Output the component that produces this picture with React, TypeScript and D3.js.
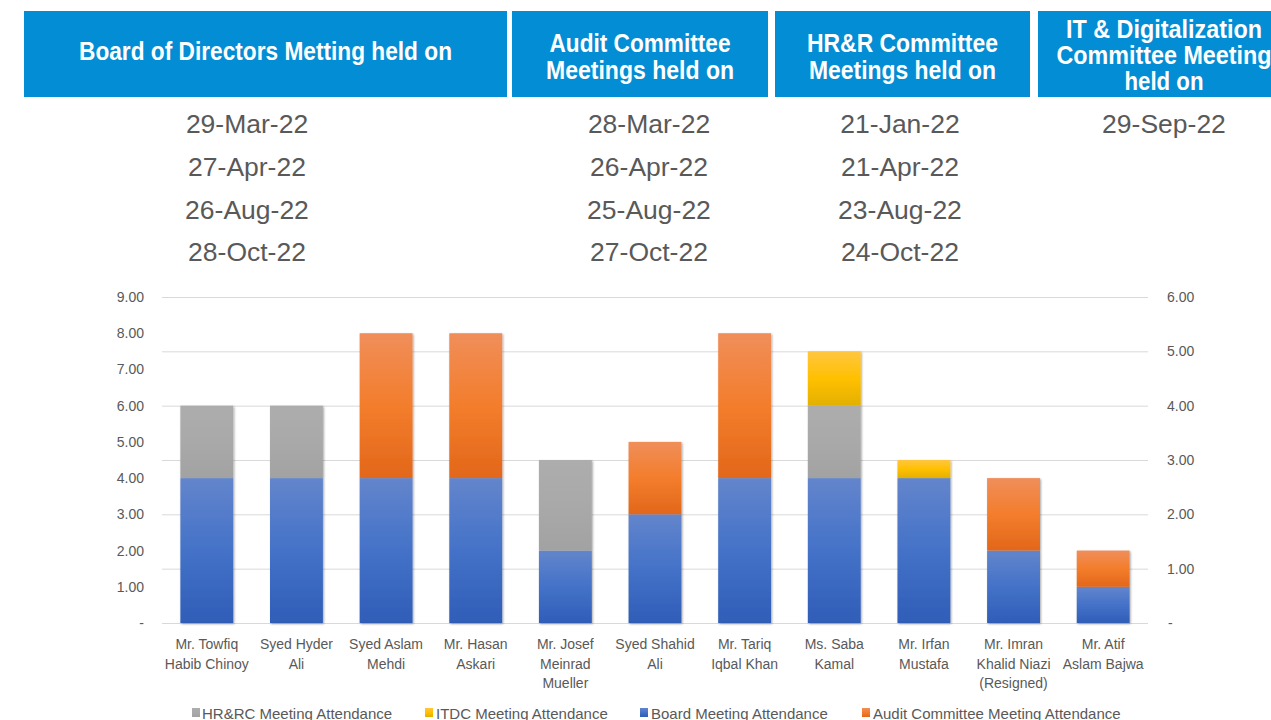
import React from "react";
import * as d3 from "d3";

const categories: string[][] = [
  ["Mr. Towfiq", "Habib Chinoy"],
  ["Syed Hyder", "Ali"],
  ["Syed Aslam", "Mehdi"],
  ["Mr. Hasan", "Askari"],
  ["Mr. Josef", "Meinrad", "Mueller"],
  ["Syed Shahid", "Ali"],
  ["Mr. Tariq", "Iqbal Khan"],
  ["Ms. Saba", "Kamal"],
  ["Mr. Irfan", "Mustafa"],
  ["Mr. Imran", "Khalid Niazi", "(Resigned)"],
  ["Mr. Atif", "Aslam Bajwa"],
];
const boardAttendance = [4, 4, 4, 4, 2, 3, 4, 4, 4, 2, 1];
const hrrcAttendance = [2, 2, 0, 0, 2.5, 0, 0, 2, 0, 0, 0];
const auditAttendance = [0, 0, 4, 4, 0, 2, 4, 0, 0, 2, 1];
const itdcAttendance = [0, 0, 0, 0, 0, 0, 0, 1.5, 0.5, 0, 0];

const leftTicks = [0, 1, 2, 3, 4, 5, 6, 7, 8, 9];
const rightTicks = [0, 1, 2, 3, 4, 5, 6];

const headerTitles: string[][] = [
  ["Board of Directors Metting held on"],
  ["Audit Committee", "Meetings held on"],
  ["HR&R Committee", "Meetings held on"],
  ["IT & Digitalization", "Committee Meeting", "held on"],
];
const boardDates = ["29-Mar-22", "27-Apr-22", "26-Aug-22", "28-Oct-22"];
const auditDates = ["28-Mar-22", "26-Apr-22", "25-Aug-22", "27-Oct-22"];
const hrDates = ["21-Jan-22", "21-Apr-22", "23-Aug-22", "24-Oct-22"];
const itDates = ["29-Sep-22"];

const legendLabels = [
  "HR&RC Meeting Attendance",
  "ITDC Meeting Attendance",
  "Board Meeting Attendance",
  "Audit Committee Meeting Attendance",
];

// layout
const W = 1271;
const H = 720;
const headerBoxes = [
  { x0: 24, x1: 507, lengths: [373], baselines: [60] },
  { x0: 512, x1: 768, lengths: [181, 188], baselines: [52, 79] },
  { x0: 775, x1: 1030, lengths: [191, 187], baselines: [52, 79] },
  { x0: 1038, x1: 1290, lengths: [196, 215, 79], baselines: [38, 64, 90], cx: 1164 },
];
const dateCols = [
  { cx: 247, dates: boardDates },
  { cx: 649, dates: auditDates },
  { cx: 900, dates: hrDates },
  { cx: 1164, dates: itDates },
];
const dateBaselines = [133, 175.5, 218.5, 261];

const plot = { left: 162, right: 1148, top: 297, bottom: 623 };
const GRAY_TEXT = "#595959";
const LABEL_FONT = "'Liberation Sans', Arial, sans-serif";

const seriesKeys = ["board", "hrrc", "audit", "itdc"] as const;
const gradIds: Record<string, string> = {
  board: "gBlue",
  hrrc: "gGray",
  audit: "gOrange",
  itdc: "gYellow",
};

export default function App() {
  const rows = categories.map((c, i) => ({
    name: c.join(" "),
    board: boardAttendance[i],
    hrrc: hrrcAttendance[i],
    audit: auditAttendance[i],
    itdc: itdcAttendance[i],
  }));

  const x = d3
    .scaleBand<string>()
    .domain(rows.map((r) => r.name))
    .range([plot.left, plot.right])
    .paddingInner(0.41)
    .paddingOuter(0.205);
  const yL = d3.scaleLinear().domain([0, 9]).range([plot.bottom, plot.top]);
  const yR = d3.scaleLinear().domain([0, 6]).range([plot.bottom, plot.top]);

  const stacked = d3.stack<any>().keys(seriesKeys as unknown as string[])(rows);

  const legendItems = [
    { label: legendLabels[0], grad: "gGray", sx: 192, tx: 202 },
    { label: legendLabels[1], grad: "gYellow", sx: 425, tx: 436 },
    { label: legendLabels[2], grad: "gBlue", sx: 640, tx: 651 },
    { label: legendLabels[3], grad: "gOrange", sx: 862, tx: 873 },
  ];

  return (
    <svg
      width={W}
      height={H}
      style={{ position: "absolute", left: 0, top: 0, background: "#fff" }}
      fontFamily={LABEL_FONT}
    >
      <defs>
        <linearGradient id="gBlue" x1="0" y1="0" x2="0" y2="1">
          <stop offset="0" stopColor="#6385cc" />
          <stop offset="0.5" stopColor="#4472c8" />
          <stop offset="1" stopColor="#2f5db7" />
        </linearGradient>
        <linearGradient id="gOrange" x1="0" y1="0" x2="0" y2="1">
          <stop offset="0" stopColor="#f08e5a" />
          <stop offset="0.5" stopColor="#f37d2c" />
          <stop offset="1" stopColor="#e2671a" />
        </linearGradient>
        <linearGradient id="gGray" x1="0" y1="0" x2="0" y2="1">
          <stop offset="0" stopColor="#adadad" />
          <stop offset="0.5" stopColor="#a9a9a9" />
          <stop offset="1" stopColor="#a2a2a2" />
        </linearGradient>
        <linearGradient id="gYellow" x1="0" y1="0" x2="0" y2="1">
          <stop offset="0" stopColor="#ffc640" />
          <stop offset="0.5" stopColor="#ffc000" />
          <stop offset="1" stopColor="#e3b000" />
        </linearGradient>
        <filter id="shadow" x="-20%" y="-20%" width="140%" height="140%">
          <feDropShadow dx="1" dy="1" stdDeviation="1.2" floodColor="#000" floodOpacity="0.35" />
        </filter>
      </defs>

      {/* header boxes */}
      {headerBoxes.map((b, i) => {
        const cx = b.cx ?? (b.x0 + b.x1) / 2;
        return (
          <g key={"hb" + i}>
            <rect x={b.x0} y={11} width={b.x1 - b.x0} height={86} fill="#038dd4" />
            {headerTitles[i].map((t, j) => (
              <text
                key={j}
                x={cx}
                y={b.baselines[j]}
                textAnchor="middle"
                fill="#fff"
                fontWeight="bold"
                fontSize={26}
                fontFamily="'Liberation Sans', Arial, sans-serif"
                textLength={b.lengths[j]}
                lengthAdjust="spacingAndGlyphs"
              >
                {t}
              </text>
            ))}
          </g>
        );
      })}

      {/* dates */}
      {dateCols.map((c, i) =>
        c.dates.map((d, j) => (
          <text
            key={"d" + i + "-" + j}
            x={c.cx}
            y={dateBaselines[j]}
            textAnchor="middle"
            fill={GRAY_TEXT}
            fontSize={26.5}
            fontFamily="'Liberation Sans', Arial, sans-serif"
          >
            {d}
          </text>
        ))
      )}

      {/* gridlines (aligned with right axis ticks) */}
      {rightTicks.map((t) => (
        <line
          key={"g" + t}
          x1={plot.left}
          x2={plot.right}
          y1={yR(t) + 0.5}
          y2={yR(t) + 0.5}
          stroke="#d9d9d9"
          strokeWidth={1}
        />
      ))}

      {/* left axis labels */}
      {leftTicks.map((t) => (
        <text
          key={"l" + t}
          x={144}
          y={yL(t) + 5}
          textAnchor="end"
          fill={GRAY_TEXT}
          fontSize={14}
        >
          {t === 0 ? "-" : t.toFixed(2)}
        </text>
      ))}

      {/* right axis labels */}
      {rightTicks.map((t) => (
        <text
          key={"r" + t}
          x={t === 0 ? 1168 : 1167}
          y={yR(t) + 5}
          textAnchor="start"
          fill={GRAY_TEXT}
          fontSize={14}
        >
          {t === 0 ? "-" : t.toFixed(2)}
        </text>
      ))}

      {/* bars */}
      <g filter="url(#shadow)">
        {stacked.map((s) =>
          s.map((d, i) => {
            const h = yL(d[0]) - yL(d[1]);
            if (h <= 0.01) return null;
            return (
              <rect
                key={s.key + i}
                x={x(rows[i].name)}
                y={yL(d[1])}
                width={x.bandwidth()}
                height={h}
                fill={`url(#${gradIds[s.key]})`}
              />
            );
          })
        )}
      </g>

      {/* category labels */}
      {categories.map((lines, i) => (
        <text
          key={"c" + i}
          x={(x(rows[i].name) as number) + x.bandwidth() / 2}
          textAnchor="middle"
          fill={GRAY_TEXT}
          fontSize={14}
        >
          {lines.map((ln, j) => (
            <tspan key={j} x={(x(rows[i].name) as number) + x.bandwidth() / 2} y={649 + j * 19.5}>
              {ln}
            </tspan>
          ))}
        </text>
      ))}

      {/* legend */}
      {legendItems.map((it, i) => (
        <g key={"lg" + i}>
          <rect x={it.sx} y={708} width={8} height={9} fill={`url(#${it.grad})`} />
          <text x={it.tx} y={719} fill={GRAY_TEXT} fontSize={15}>
            {it.label}
          </text>
        </g>
      ))}
    </svg>
  );
}
